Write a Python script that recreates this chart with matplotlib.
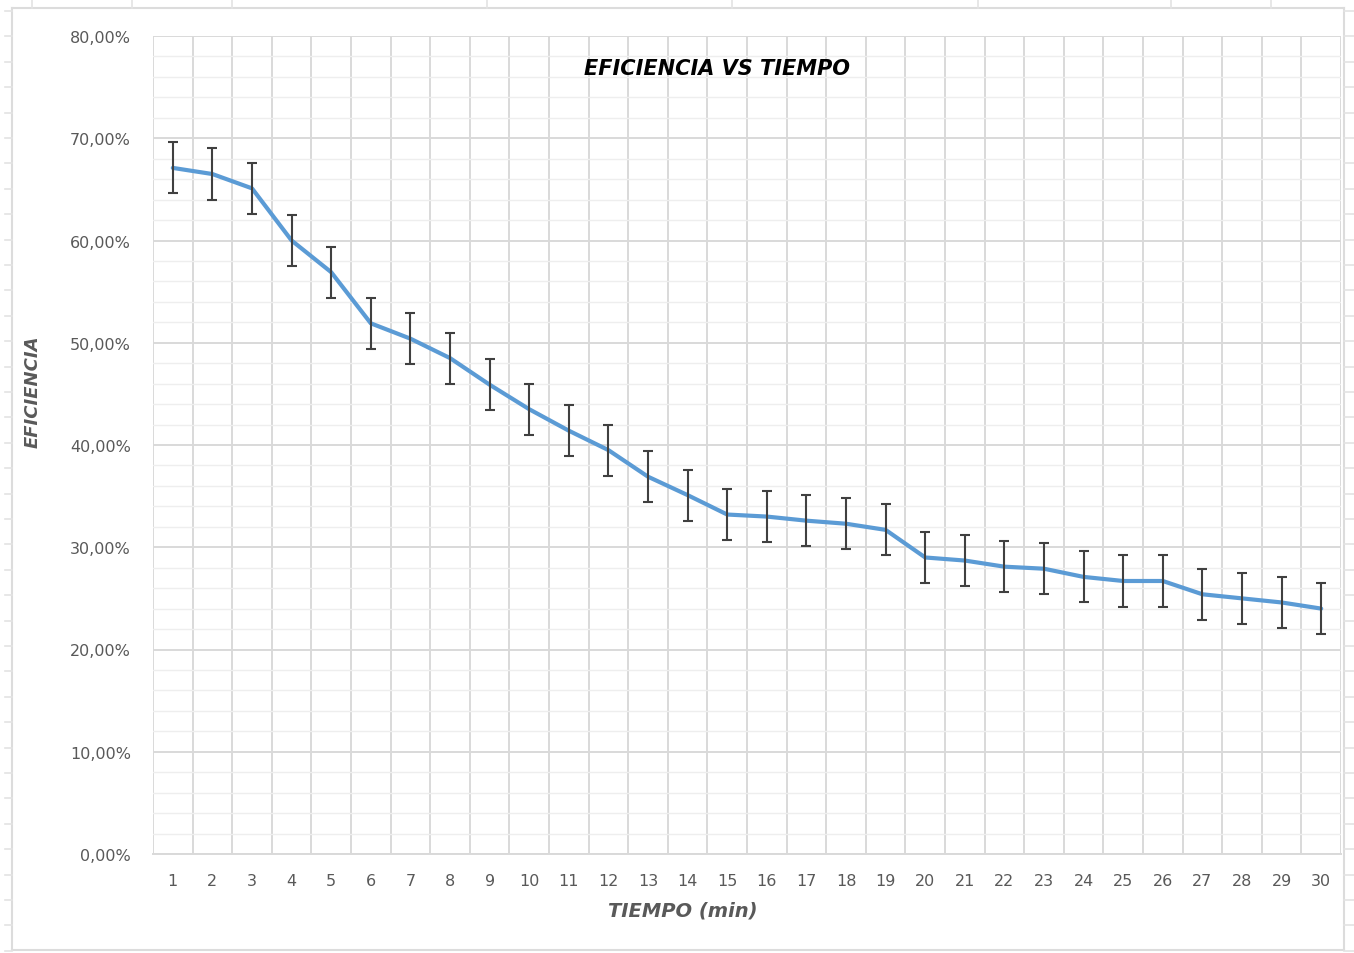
import numpy as np
import matplotlib.pyplot as plt
from matplotlib.lines import Line2D
from matplotlib.ticker import FixedLocator, MultipleLocator

# Data (eficiencia en %)
tiempo = list(range(1, 31))
eficiencia = [67.1, 66.5, 65.1, 60.0, 56.9, 51.9, 50.4, 48.5, 45.9, 43.5,
              41.4, 39.5, 36.9, 35.1, 33.2, 33.0, 32.6, 32.3, 31.7, 29.0,
              28.7, 28.1, 27.9, 27.1, 26.7, 26.7, 25.4, 25.0, 24.6, 24.0]
error = [2.5] * 30
y_ticks = [0, 10, 20, 30, 40, 50, 60, 70, 80]

W, H = 1354, 954
fig = plt.figure(figsize=(W / 100, H / 100), dpi=100)
fig.patch.set_facecolor('white')

# sheet cells / chart border behind the chart
def px_line(x0, y0, x1, y1, color='#E3E3E3', lw=1.2):
    fig.add_artist(Line2D([x0 / W, x1 / W], [1 - y0 / H, 1 - y1 / H],
                          transform=fig.transFigure, color=color, lw=lw))

px_line(12, 9, 1344, 9, '#DCDCDC', 1.5)
px_line(12, 9, 12, 951, '#DCDCDC', 1.5)
px_line(1344, 9, 1344, 951, '#DCDCDC', 1.5)
px_line(12, 951, 1344, 951, '#DCDCDC', 1.5)
for yy in np.arange(12, 954, 25.4):
    px_line(5, yy, 12, yy)
    px_line(1344, yy, 1354, yy)
for xx in [32, 132, 232, 487, 732, 978, 1171, 1271]:
    px_line(xx, 0, xx, 9)

ax = fig.add_axes([153 / W, 1 - 855 / H, (1341 - 153) / W, (855 - 37) / H])
ax.set_xlim(0.5, 30.5)
ax.set_ylim(0, 80)

# grid
ax.yaxis.set_major_locator(FixedLocator(y_ticks))
ax.yaxis.set_minor_locator(MultipleLocator(2))
ax.xaxis.set_major_locator(FixedLocator(tiempo))
ax.xaxis.set_minor_locator(FixedLocator(np.arange(0.5, 31, 1)))
ax.grid(which='major', axis='y', color='#D9D9D9', lw=1.4, zorder=0)
ax.grid(which='minor', axis='y', color='#EEEEEE', lw=1.0, zorder=0)
ax.grid(which='minor', axis='x', color='#D9D9D9', lw=1.4, zorder=0)
ax.set_axisbelow(True)

for s in ['top', 'right', 'left']:
    ax.spines[s].set_visible(False)
ax.spines['bottom'].set_color('#D9D9D9')
ax.spines['bottom'].set_linewidth(1.4)

ax.plot(tiempo, eficiencia, color='#5B9BD5', lw=3, solid_joinstyle='round',
        solid_capstyle='round', zorder=3)
ax.errorbar(tiempo, eficiencia, yerr=error, fmt='none', ecolor='#404040',
            elinewidth=1.5, capsize=3.5, capthick=1.5, zorder=4)

ax.set_yticklabels([f"{v:.2f}%".replace('.', ',') for v in y_ticks])
ax.tick_params(axis='both', which='both', length=0, labelsize=11.5,
               labelcolor='#595959')
ax.tick_params(axis='y', pad=16)
ax.tick_params(axis='x', pad=14)

ax.set_xlabel('TIEMPO (min)', fontsize=14, fontweight='bold', style='italic',
              color='#595959', va='top')
ax.xaxis.set_label_coords(0.446, -0.057)
ax.set_ylabel('EFICIENCIA', fontsize=13, fontweight='bold', style='italic',
              color='#595959')
ax.yaxis.set_label_coords(-0.0934, 0.566)

ax.text(0.4747, 0.961, 'EFICIENCIA VS TIEMPO', transform=ax.transAxes,
        ha='center', va='center', fontsize=15, fontweight='bold',
        style='italic', color='black')

fig.savefig('out.png', dpi=100, facecolor='white')
